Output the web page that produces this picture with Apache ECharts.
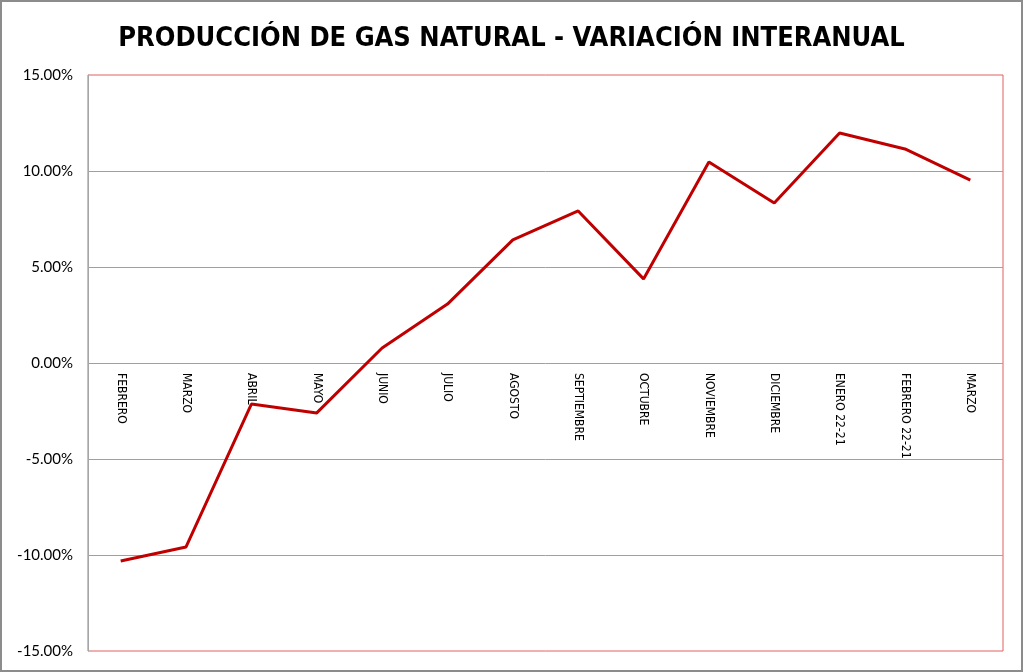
<!DOCTYPE html>
<html><head><meta charset="utf-8">
<script src="https://cdn.jsdelivr.net/npm/echarts@6/dist/echarts.min.js"></script>
<style>html,body{margin:0;padding:0;background:#fff}#c{width:1023px;height:672px}</style>
</head><body><div id="c"></div>
<script>
const titleText = 'PRODUCCIÓN DE GAS NATURAL - VARIACIÓN INTERANUAL';
const categories = ['FEBRERO','MARZO','ABRIL','MAYO','JUNIO','JULIO','AGOSTO','SEPTIEMBRE','OCTUBRE','NOVIEMBRE','DICIEMBRE','ENERO 22-21','FEBRERO 22-21','MARZO'];
const values = [-10.31,-9.58,-2.14,-2.60,0.78,3.07,6.41,7.92,4.38,10.47,8.33,11.98,11.15,9.53];
const yMin = -15, yMax = 15, yStep = 5;

const chart = echarts.init(document.getElementById('c'), null, {renderer:'canvas'});
chart.setOption({
  animation:false,
  backgroundColor:'#fff',
  title:{text:titleText,left:'center',top:20,
    textStyle:{fontFamily:'Liberation Sans Narrow, DejaVu Sans Condensed, sans-serif',fontWeight:'bold',fontSize:27,color:'#000'}},
  grid:{left:88,right:20,top:75,bottom:21,containLabel:false,outerBoundsMode:'none',show:true,borderColor:'#e06060',borderWidth:1,backgroundColor:'transparent'},
  graphic:[{type:'rect',shape:{x:1,y:1,width:1021,height:670},style:{fill:'none',stroke:'#8c8c8c',lineWidth:2},silent:true}],
  xAxis:{type:'category',data:categories,boundaryGap:true,
    axisLine:{show:false},
    axisTick:{show:false},
    axisLabel:{rotate:-90,interval:0,margin:-278,color:'#000',fontSize:12,fontFamily:'Liberation Sans Narrow, DejaVu Sans Condensed, sans-serif'},
    splitLine:{show:false}},
  yAxis:{type:'value',min:yMin,max:yMax,interval:yStep,
    axisLine:{show:true,onZero:false,lineStyle:{color:'#a6a6a6',width:1}},
    axisTick:{show:false},
    axisLabel:{formatter:v=>v.toFixed(2)+'%',color:'#000',fontSize:15,fontFamily:'Lato, sans-serif',margin:15},
    splitLine:{show:true,showMinLine:false,showMaxLine:false,lineStyle:{color:'#a0a0a0',width:1}}},
  series:[{type:'line',data:values,symbol:'none',z:5,lineStyle:{color:'#c00000',width:3},itemStyle:{color:'#c00000'}}]
});
</script></body></html>
